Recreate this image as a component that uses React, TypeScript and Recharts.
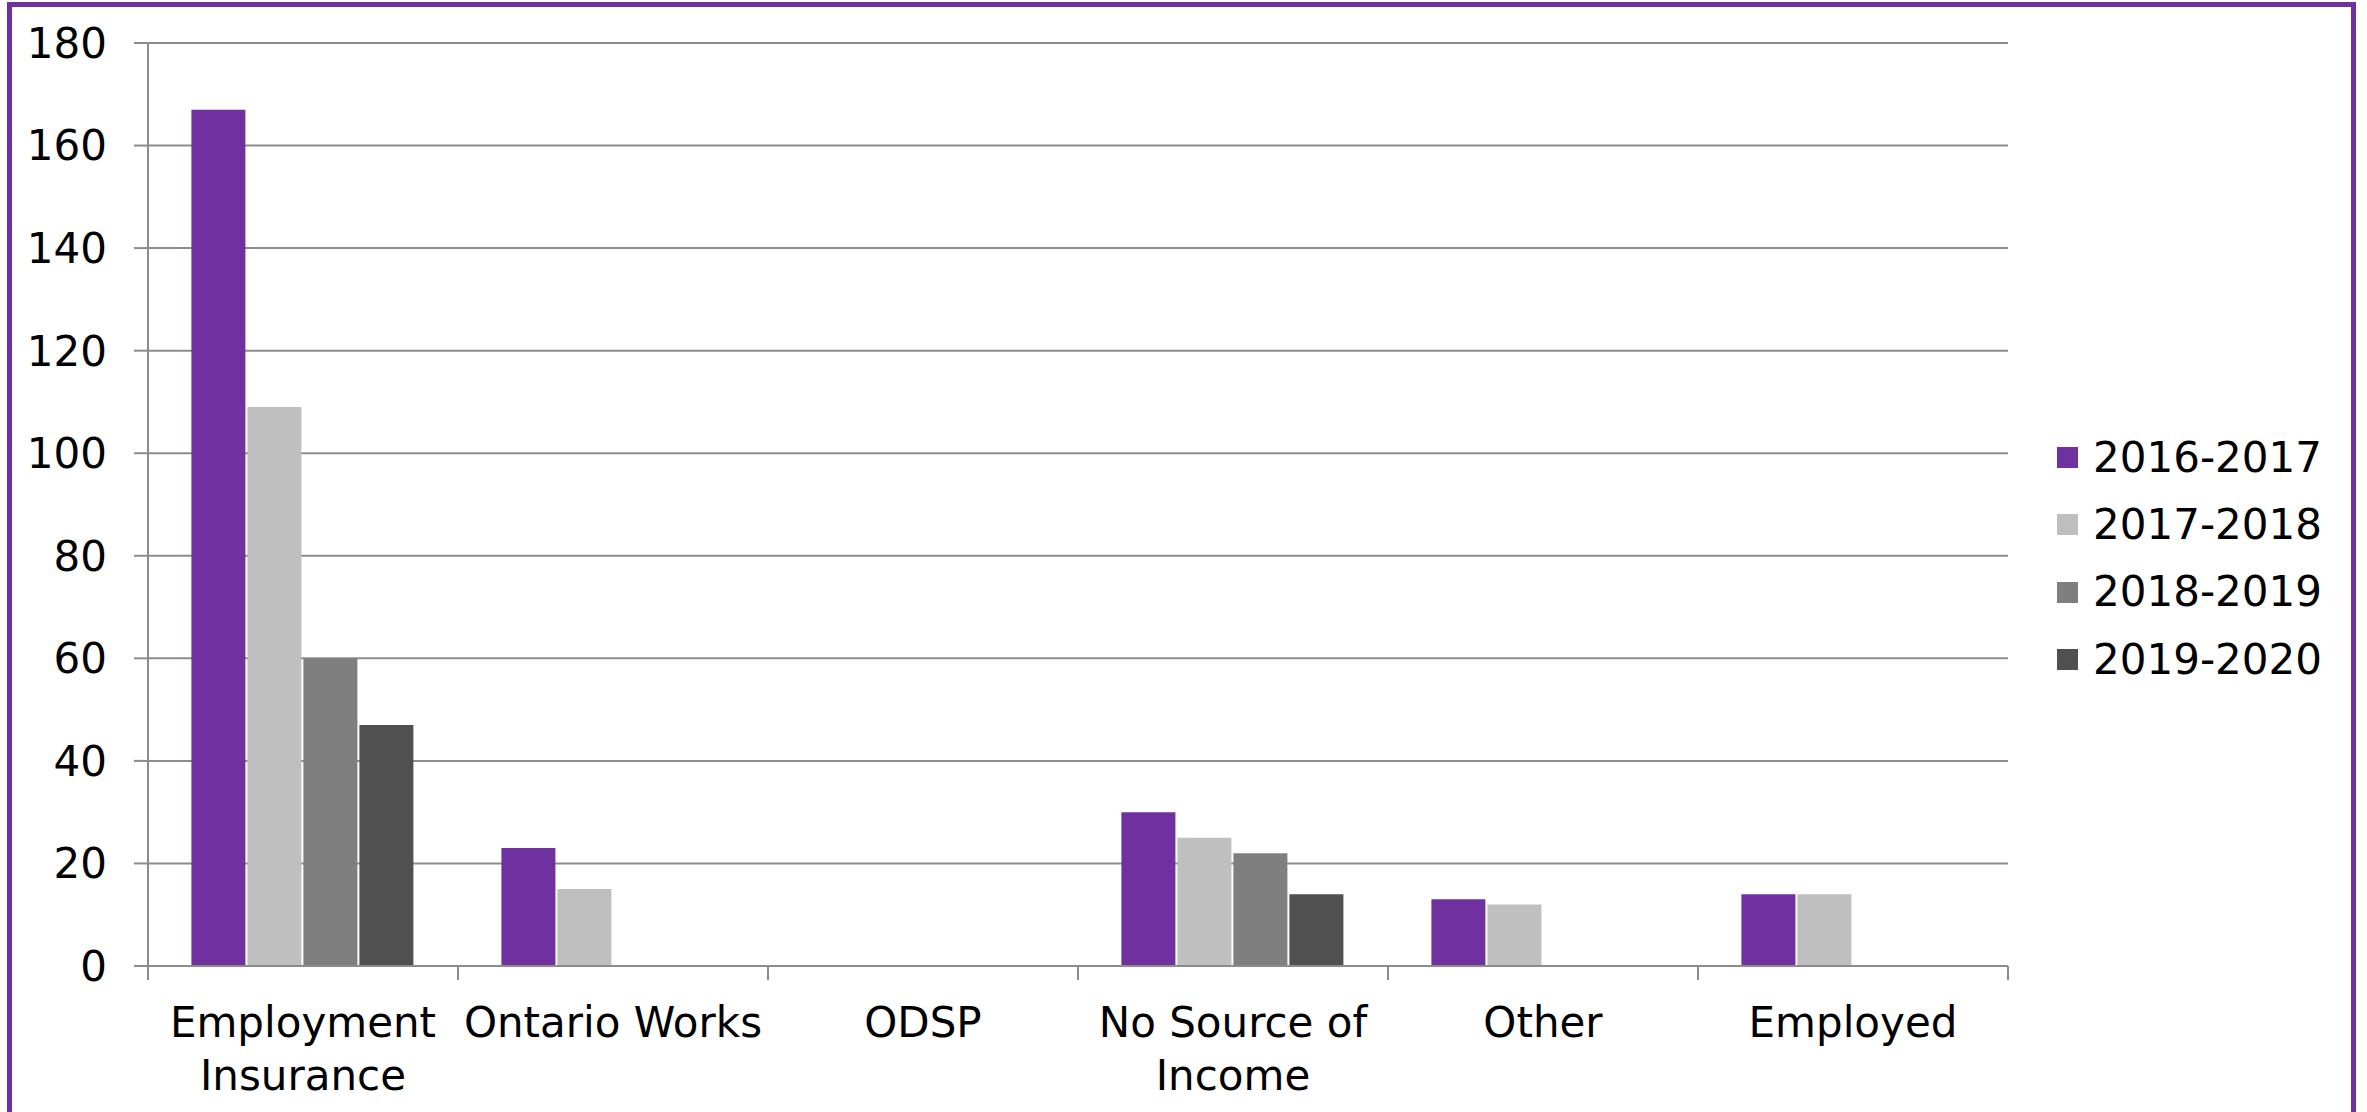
import React from 'react';
import { BarChart, Bar, XAxis, YAxis, CartesianGrid, Legend } from 'recharts';

const categories = ['Employment Insurance', 'Ontario Works', 'ODSP', 'No Source of Income', 'Other', 'Employed'];
const seriesNames = ['2016-2017', '2017-2018', '2018-2019', '2019-2020'];
const values2016 = [167, 23, null, 30, 13, 14];
const values2017 = [109, 15, null, 25, 12, 14];
const values2018 = [60, null, null, 22, null, null];
const values2019 = [47, null, null, 14, null, null];
const yTicks = [0, 20, 40, 60, 80, 100, 120, 140, 160, 180];
const seriesColors = ['#7030A0', '#BFBFBF', '#7F7F7F', '#505050'];

const FONT = '"DejaVu Sans", Verdana, sans-serif';
const FONT_SIZE = 42;
const AXIS_COLOR = '#8C8C8C';
const CHART_W = 2339;
const CHART_H = 1104;
const MARGIN = { top: 36, right: 343, bottom: 0, left: 0 };
const YAXIS_W = 136;
const XAXIS_H = 145;
const PLOT_W = CHART_W - MARGIN.left - MARGIN.right - YAXIS_W;

const seriesValues = [values2016, values2017, values2018, values2019];
const data = categories.map((c, i) => {
  const row: Record<string, any> = { category: c };
  seriesNames.forEach((s, k) => {
    row[s] = seriesValues[k][i];
  });
  return row;
});

let measureCtx: CanvasRenderingContext2D | null = null;
function measure(text: string): number {
  if (!measureCtx) {
    const c = document.createElement('canvas');
    measureCtx = c.getContext('2d');
  }
  if (!measureCtx) return text.length * FONT_SIZE * 0.6;
  measureCtx.font = `${FONT_SIZE}px "DejaVu Sans"`;
  return measureCtx.measureText(text).width;
}

function wrap(text: string, maxW: number): string[] {
  const words = text.split(' ');
  const lines: string[] = [];
  let cur = '';
  for (const w of words) {
    const test = cur ? cur + ' ' + w : w;
    if (cur && measure(test) > maxW) {
      lines.push(cur);
      cur = w;
    } else {
      cur = test;
    }
  }
  if (cur) lines.push(cur);
  return lines;
}

const CategoryTick = (props: any) => {
  const { x, y, payload, index } = props;
  const bw = PLOT_W / categories.length;
  const lines = wrap(String(payload.value), bw);
  return (
    <g>
      <line x1={x - bw / 2} x2={x - bw / 2} y1={y} y2={y + 14} stroke={AXIS_COLOR} strokeWidth={2} />
      {index === categories.length - 1 && (
        <line x1={x + bw / 2} x2={x + bw / 2} y1={y} y2={y + 14} stroke={AXIS_COLOR} strokeWidth={2} />
      )}
      <text textAnchor="middle" fontSize={FONT_SIZE} fontFamily={FONT} fill="#000">
        {lines.map((l, i) => (
          <tspan key={i} x={x} y={y + 71 + i * 53}>
            {l}
          </tspan>
        ))}
      </text>
    </g>
  );
};

const renderLegend = (props: any) => {
  const { payload } = props;
  return (
    <div style={{ fontFamily: FONT }}>
      {(payload || []).map((p: any, i: number) => (
        <div key={i} style={{ display: 'flex', alignItems: 'center', height: 67.3 }}>
          <div style={{ width: 21, height: 21, background: p.color, marginRight: 15 }} />
          <span style={{ fontSize: FONT_SIZE, lineHeight: 1, color: '#000' }}>{p.value}</span>
        </div>
      ))}
    </div>
  );
};

export default function App() {
  return (
    <div
      style={{
        position: 'absolute',
        left: 7,
        top: 2,
        width: 2349,
        height: 1130,
        border: '5px solid #7030A0',
        boxSizing: 'border-box',
        background: '#fff',
        fontFamily: FONT,
      }}
    >
      <BarChart
        width={CHART_W}
        height={CHART_H}
        data={data}
        margin={MARGIN}
        barCategoryGap="14%"
        barGap={2}
      >
        <CartesianGrid vertical={false} stroke={AXIS_COLOR} strokeWidth={2} />
        <XAxis
          dataKey="category"
          height={XAXIS_H}
          interval={0}
          tickLine={false}
          tickSize={0}
          tickMargin={0}
          axisLine={{ stroke: AXIS_COLOR, strokeWidth: 2 }}
          tick={<CategoryTick />}
        />
        <YAxis
          width={YAXIS_W}
          domain={[0, 180]}
          ticks={yTicks}
          interval={0}
          tickSize={14}
          tickMargin={27}
          axisLine={{ stroke: AXIS_COLOR, strokeWidth: 2 }}
          tickLine={{ stroke: AXIS_COLOR, strokeWidth: 2 }}
          tick={{ fill: '#000', fontSize: FONT_SIZE, fontFamily: FONT }}
        />
        <Legend
          layout="vertical"
          align="center"
          verticalAlign="middle"
          wrapperStyle={{ left: 2045, top: 417, width: 294, height: 270 }}
          content={renderLegend}
        />
        {seriesNames.map((s, k) => (
          <Bar key={s} dataKey={s} name={s} fill={seriesColors[k]} isAnimationActive={false} />
        ))}
      </BarChart>
    </div>
  );
}
